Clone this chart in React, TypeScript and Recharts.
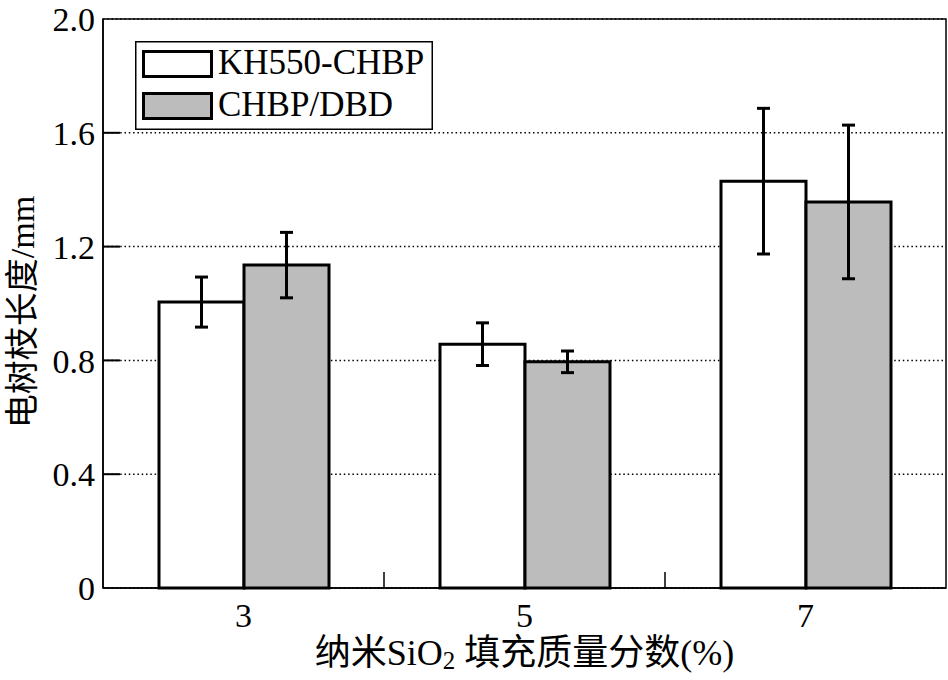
import {
  BarChart,
  Bar,
  XAxis,
  YAxis,
  CartesianGrid,
  ErrorBar,
  Legend,
  ReferenceArea,
} from "recharts";

const categories = ["3", "5", "7"];
const kh550 = [1.005, 0.857, 1.43];
const kh550Err = [0.088, 0.075, 0.256];
const chbpDbd = [1.135, 0.795, 1.357];
const chbpDbdErr = [0.115, 0.038, 0.27];
const yTicks = [0, 0.4, 0.8, 1.2, 1.6, 2.0];
const seriesNames = ["KH550-CHBP", "CHBP/DBD"];
const seriesFills = ["#ffffff", "#bcbcbc"];

const FONT = '"Liberation Serif", "Times New Roman", "Noto Sans CJK SC", serif';

const data = categories.map((c, i) => ({
  cat: c,
  kh: kh550[i],
  khErr: kh550Err[i],
  dbd: chbpDbd[i],
  dbdErr: chbpDbdErr[i],
}));

function YTick({ x, y, payload }: any) {
  const v = Number(payload.value);
  return (
    <g>
      {v > 0 && v < 2 && (
        <path d={`M${x + 8},${y}H${x + 25}`} stroke="#000" strokeWidth={2} fill="none" />
      )}
      <text
        x={x}
        y={y}
        dy="0.36em"
        textAnchor="end"
        fontSize={34}
        fontFamily={FONT}
        fill="#000"
      >
        {v === 0 ? "0" : v.toFixed(1)}
      </text>
    </g>
  );
}

// category label plus a short inward tick on the boundary to the next group
function XTick({ x, y, payload, index, width }: any) {
  const band = width / categories.length;
  return (
    <g>
      {index < categories.length - 1 && (
        <line x1={x + band / 2} x2={x + band / 2} y1={y} y2={y - 16} stroke="#000" strokeWidth={1.5} />
      )}
      <text x={x} y={y + 39} textAnchor="middle" fontSize={34} fontFamily={FONT} fill="#000">
        {payload.value}
      </text>
    </g>
  );
}

function LegendBox({ payload }: any) {
  const items = [...(payload || [])]
    .sort((a: any, b: any) => seriesNames.indexOf(a.value) - seriesNames.indexOf(b.value))
    .map((p: any, i: number) => ({
      name: p.value,
      fill: seriesFills[seriesNames.indexOf(p.value)] ?? p.color,
      i,
    }));
  return (
    <svg width={298} height={89} style={{ display: "block" }}>
      <rect x={0.75} y={0.75} width={296.5} height={87.5} fill="#fff" stroke="#000" strokeWidth={1.5} />
      {items.map((it: any) => (
        <g key={it.name}>
          <rect
            x={8.5}
            y={10.5 + it.i * 42}
            width={68}
            height={25}
            fill={it.fill}
            stroke="#000"
            strokeWidth={3}
          />
          <text x={83} y={33 + it.i * 42} fontSize={35} fontFamily={FONT} fill="#000">
            {it.name}
          </text>
        </g>
      ))}
    </svg>
  );
}

export default function App() {
  return (
    <div style={{ position: "absolute", left: 0, top: 0, background: "#fff" }}>
      <BarChart
        width={948}
        height={680}
        data={data}
        margin={{ top: 19, right: 2, left: 0, bottom: 0 }}
        barGap={0}
      >
        <CartesianGrid
          vertical={false}
          stroke="#000"
          strokeWidth={1.5}
          strokeDasharray="1.5 2.8"
        />
        <ReferenceArea y1={0} y2={2} fill="none" stroke="#000" strokeWidth={1.5} ifOverflow="visible" />
        <XAxis
          dataKey="cat"
          height={92}
          axisLine={true}
          stroke="#000"
          strokeWidth={1.5}
          tickLine={false}
          tickSize={0}
          tickMargin={0}
          tick={<XTick />}
          label={{
            content: ({ viewBox }: any) => (
              <text
                x={viewBox.x + viewBox.width / 2}
                y={viewBox.y + 77}
                textAnchor="middle"
                fontSize={36}
                fontFamily={FONT}
                fill="#000"
              >
                纳米SiO
                <tspan fontSize={25} dy={4}>2</tspan>
                <tspan dy={-4}> 填充质量分数(%)</tspan>
              </text>
            ),
          }}
        />
        <YAxis
          width={103}
          domain={[0, 2]}
          ticks={yTicks}
          axisLine={true}
          stroke="#000"
          strokeWidth={1.5}
          tickLine={false}
          tickSize={0}
          tickMargin={8}
          tick={<YTick />}
          label={{
            content: () => (
              <text
                x={22}
                y={312}
                transform="rotate(-90 22 312)"
                textAnchor="middle"
                dominantBaseline="central"
                fontSize={34}
                fontFamily={FONT}
                fill="#000"
              >
                电树枝长度/mm
              </text>
            ),
          }}
        />
        <Legend
          layout="vertical"
          align="center"
          verticalAlign="middle"
          wrapperStyle={{ left: 135, top: 41, width: 298, height: 89 }}
          content={<LegendBox />}
        />
        <Bar
          dataKey="kh"
          name={seriesNames[0]}
          fill={seriesFills[0]}
          stroke="#000"
          strokeWidth={3}
          barSize={85}
          isAnimationActive={false}
        >
          <ErrorBar dataKey="khErr" width={6.5} stroke="#000" strokeWidth={3} isAnimationActive={false} />
        </Bar>
        <Bar
          dataKey="dbd"
          name={seriesNames[1]}
          fill={seriesFills[1]}
          stroke="#000"
          strokeWidth={3}
          barSize={85}
          isAnimationActive={false}
        >
          <ErrorBar dataKey="dbdErr" width={6.5} stroke="#000" strokeWidth={3} isAnimationActive={false} />
        </Bar>
      </BarChart>
    </div>
  );
}
